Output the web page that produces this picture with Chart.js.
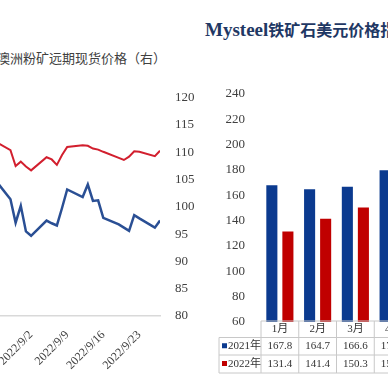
<!DOCTYPE html>
<html>
<head>
<meta charset="utf-8">
<script src="https://cdn.jsdelivr.net/npm/chart.js@4.4.0/dist/chart.umd.min.js"></script>
<style>
  html, body { margin: 0; padding: 0; background: #fff; }
  body { width: 388px; height: 388px; overflow: hidden; position: relative; }
  canvas { position: absolute; }
  .txt { position: absolute; white-space: nowrap; }
  #legendL { left: -3px; top: 49px; font: 13px "Noto Sans CJK SC", sans-serif; color: #404040; line-height: 18px; }
  #titleR { left: 205px; top: 18px; font: bold 16px "Noto Sans CJK SC", serif; color: #1f3864; line-height: 22px; }
  #titleR span { font: bold 19px "Liberation Serif", serif; }
</style>
</head>
<body>
<div class="txt" id="legendL">澳洲粉矿远期现货价格（右）</div>
<div class="txt" id="titleR"><span>Mysteel</span>铁矿石美元价格指数</div>
<canvas id="lineChart" width="215" height="301" style="left:-5px; top:75px;"></canvas>
<canvas id="barChart" width="201" height="312" style="left:211px; top:70px;"></canvas>
<script>
// left chart: daily prices (trading days)
const dates = ['2022/8/26', '2022/8/29', '2022/8/30', '2022/8/31', '2022/9/1', '2022/9/2',
  '2022/9/5', '2022/9/6', '2022/9/7', '2022/9/8', '2022/9/9',
  '2022/9/12', '2022/9/13', '2022/9/14', '2022/9/15', '2022/9/16',
  '2022/9/19', '2022/9/20', '2022/9/21', '2022/9/22', '2022/9/23',
  '2022/9/26', '2022/9/27'];
const auFines = [112.0, 110.4, 107.5, 108.3, 107.4, 106.7,
  109.1, 108.7, 107.7, 109.5, 111.0,
  111.3, 111.2, 110.7, 110.5, 110.1,
  109.0, 108.6, 109.2, 110.2, 110.1,
  109.3, 110.3];
const ironIdx = [105.0, 101.4, 97.1, 100.2, 95.5, 94.7,
  97.5, 97.0, 96.6, 99.8, 103.2,
  101.8, 104.1, 101.1, 101.2, 98.0,
  96.8, 96.2, 95.6, 98.5, 97.9,
  96.2, 97.5];
const dateTicks = ['2022/9/2', '2022/9/9', '2022/9/16', '2022/9/23'];
const rightTicks = [80, 85, 90, 95, 100, 105, 110, 115, 120];

// right chart: monthly averages
const months = ['1月', '2月', '3月', '4月'];
const y2021 = [167.8, 164.7, 166.6, 179.6];
const y2022 = [131.4, 141.4, 150.3, 151.6];
const barTicks = [60, 80, 100, 120, 140, 160, 180, 200, 220, 240];

const dayNum = (s) => {
  const p = s.split('/').map(Number);
  return (Date.UTC(p[0], p[1] - 1, p[2]) - Date.UTC(2022, 7, 26)) / 86400000;
};

const serif = '"Liberation Serif", "Times New Roman", serif';

new Chart(document.getElementById('lineChart'), {
  type: 'line',
  data: {
    datasets: [
      {
        data: dates.map((d, i) => ({ x: dayNum(d), y: auFines[i] })),
        borderColor: '#d21f2e', borderWidth: 2, pointRadius: 0, tension: 0
      },
      {
        data: dates.map((d, i) => ({ x: dayNum(d), y: ironIdx[i] })),
        borderColor: '#2a4f94', borderWidth: 2.5, pointRadius: 0, tension: 0
      }
    ]
  },
  options: {
    responsive: false,
    devicePixelRatio: 1,
    animation: false,
    layout: { padding: { left: 0, right: 10, top: 20, bottom: 0 } },
    plugins: { legend: { display: false }, tooltip: { enabled: false } },
    scales: {
      x: {
        type: 'linear',
        min: dayNum(dates[0]),
        max: dayNum(dates[dates.length - 1]),
        afterBuildTicks: (s) => { s.ticks = dateTicks.map(d => ({ value: dayNum(d) })); },
        afterFit: (s) => { s.height = 60; s.paddingLeft = 0; s.paddingRight = 0; },
        grid: { display: false },
        border: { color: '#d9d9d9', width: 1.5 },
        ticks: {
          minRotation: 45, maxRotation: 45, padding: 4,
          color: '#404040', font: { family: serif, size: 12 },
          callback: (v) => dateTicks.find(d => dayNum(d) === v) || ''
        }
      },
      y: {
        position: 'right',
        min: 80, max: 120,
        afterBuildTicks: (s) => { s.ticks = rightTicks.map(v => ({ value: v })); },
        afterFit: (s) => { s.width = 40; },
        grid: { display: false, drawTicks: false },
        border: { display: false },
        ticks: { padding: 15, color: '#404040', font: { family: serif, size: 13 } }
      }
    }
  }
});

const tablePlugin = {
  id: 'dataTable',
  afterDraw(chart) {
    const ctx = chart.ctx;
    const x = chart.scales.x;
    const area = chart.chartArea;
    const colW = x.getPixelForValue(1) - x.getPixelForValue(0);
    const left = area.left;
    const right = left + colW * months.length;
    const legLeft = left - 42;
    const rows = [area.bottom - 1, area.bottom + 15.5, area.bottom + 33, area.bottom + 51];
    ctx.save();
    ctx.strokeStyle = '#c8c8c8';
    ctx.lineWidth = 1;
    ctx.beginPath();
    ctx.moveTo(left, rows[0]); ctx.lineTo(right, rows[0]);
    for (let r = 1; r < 4; r++) { ctx.moveTo(legLeft, rows[r]); ctx.lineTo(right, rows[r]); }
    ctx.moveTo(legLeft, rows[1]); ctx.lineTo(legLeft, rows[3]);
    for (let i = 0; i <= months.length; i++) {
      ctx.moveTo(left + i * colW, rows[0]); ctx.lineTo(left + i * colW, rows[3]);
    }
    ctx.stroke();
    ctx.fillStyle = '#333';
    ctx.textAlign = 'center';
    ctx.textBaseline = 'middle';
    ctx.font = '11px ' + serif.replace('serif', '"Noto Sans CJK SC", serif');
    months.forEach((m, i) => {
      const cx = x.getPixelForValue(i);
      ctx.fillText(m, cx, (rows[0] + rows[1]) / 2);
      ctx.fillText(y2021[i].toFixed(1), cx, (rows[1] + rows[2]) / 2);
      ctx.fillText(y2022[i].toFixed(1), cx, (rows[2] + rows[3]) / 2);
    });
    const series = [['2021年', '#0b3a8f', rows[1], rows[2]], ['2022年', '#c00000', rows[2], rows[3]]];
    ctx.textAlign = 'left';
    series.forEach(([name, col, t, b]) => {
      const cy = (t + b) / 2;
      ctx.fillStyle = col;
      ctx.fillRect(legLeft + 3, cy - 3, 5, 5);
      ctx.fillStyle = '#333';
      ctx.fillText(name, legLeft + 9, cy);
    });
    ctx.restore();
  }
};

new Chart(document.getElementById('barChart'), {
  type: 'bar',
  data: {
    labels: months,
    datasets: [
      { label: '2021年', data: y2021, backgroundColor: '#0b3a8f', categoryPercentage: 0.85, barPercentage: 0.69 },
      { label: '2022年', data: y2022, backgroundColor: '#c00000', categoryPercentage: 0.85, barPercentage: 0.69 }
    ]
  },
  options: {
    responsive: false,
    devicePixelRatio: 1,
    animation: false,
    layout: { padding: { left: 0, right: 0, top: 20, bottom: 60 } },
    plugins: { legend: { display: false }, tooltip: { enabled: false } },
    scales: {
      x: {
        afterFit: (s) => { s.height = 0; s.paddingLeft = 0; s.paddingRight = 0; },
        grid: { display: false, drawTicks: false },
        border: { display: false },
        ticks: { display: false }
      },
      y: {
        min: 60, max: 240,
        afterBuildTicks: (s) => { s.ticks = barTicks.map(v => ({ value: v })); },
        afterFit: (s) => { s.width = 50; },
        grid: { display: false, drawTicks: false },
        border: { display: false },
        ticks: { padding: 16, color: '#404040', font: { family: serif, size: 13 } }
      }
    }
  },
  plugins: [tablePlugin]
});
</script>
</body>
</html>
